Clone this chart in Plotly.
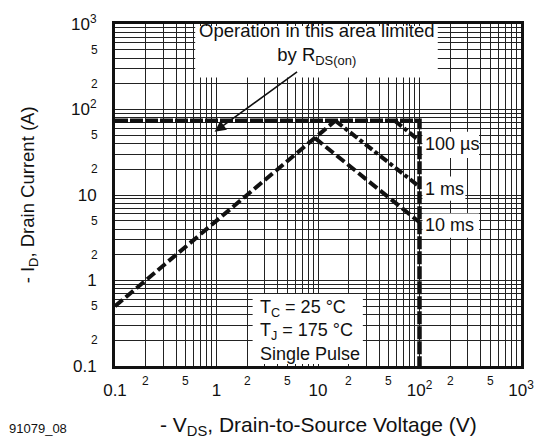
import numpy as np
import plotly.graph_objects as go

# Safe operating area, single pulse (log-log)
v_rds = [0.1, 14.8]            # R_DS(on) limit line
i_rds = [0.5, 74]
v_10ms = [9.3, 100]
i_10ms = [46.5, 4.8]
v_1ms = [14.8, 100]
i_1ms = [74, 12.5]
v_100us = [57, 100]
i_100us = [74, 43]
v_limit = [0.1, 100, 100]      # package current / breakdown limit
i_limit = [74, 74, 0.1]

decades = [0.1, 1, 10, 100]
grid_vals = [d * k for d in decades for k in range(1, 10)] + [1000]
major_vals = [0.1, 1, 10, 100, 1000]
major_text = ["0.1", "1", "10", "10<sup>2</sup>", "10<sup>3</sup>"]
minor_vals = [d * k for d in decades for k in (2, 5)]
minor_text = [str(k) for d in decades for k in (2, 5)]

FONT = "Liberation Sans, Arial, Helvetica, sans-serif"
INK = "#111111"

fig = go.Figure()

def seg(x, y, dash, width):
    fig.add_trace(go.Scatter(x=x, y=y, mode="lines", showlegend=False, hoverinfo="skip",
                             line=dict(color=INK, width=width, dash=dash)))

seg(v_rds, i_rds, "10px,4px", 4)
seg(v_10ms, i_10ms, "10px,4px", 4)
seg(v_1ms, i_1ms, "9px,3px,4px,3px", 4)
seg(v_100us, i_100us, "9px,3px,4px,3px", 4)
seg(v_limit, i_limit, "13px,2px", 4.5)

# white panels behind the text blocks, given in log10 units and mapped to paper space
def to_paper(lg):
    return (lg + 1) / 4

inset = 2.0 / 353
panels = [
    (-0.21, 2.18, 2.375, 3.0),
    (0.356, 1.442, -1.0, -0.159),
    (2.029, 2.587, 1.432, 1.739),
    (2.029, 2.452, 0.932, 1.216),
    (2.029, 2.587, 0.50, 0.784),
]
for x0, x1, y0, y1 in panels:
    fig.add_shape(type="rect", xref="paper", yref="paper",
                  x0=to_paper(x0), x1=to_paper(x1),
                  y0=max(to_paper(y0), inset), y1=min(to_paper(y1), 1 - inset),
                  fillcolor="white", line=dict(width=0), layer="above")

ann = []
ann.append(dict(x=0.981, y=2.762, xref="x", yref="y", showarrow=False, yanchor="middle",
                text="Operation in this area limited<br>by R<sub>DS(on)</sub>",
                font=dict(size=18.5, color=INK), align="center"))
ann.append(dict(x=-0.019, y=1.739, xref="x", yref="y", showarrow=True,
                ax=84, ay=-61, arrowhead=2, arrowsize=1.4, arrowwidth=1.6,
                arrowcolor=INK, text=""))
ann.append(dict(x=0.413, y=-0.58, xref="x", yref="y", showarrow=False, xanchor="left",
                yanchor="middle",
                text="T<sub>C</sub> = 25 °C<br>T<sub>J</sub> = 175 °C<br>Single Pulse",
                font=dict(size=18, color=INK), align="left"))
for lbl, yy in [("100 µs", 1.591), ("1 ms", 1.068), ("10 ms", 0.648)]:
    ann.append(dict(x=2.038, y=yy, xref="x", yref="y", showarrow=False, xanchor="left",
                    yanchor="middle", text=lbl, font=dict(size=18, color=INK)))

for v, t in zip(minor_vals, minor_text):
    ann.append(dict(x=np.log10(v), y=0, xref="x", yref="paper", showarrow=False,
                    yanchor="middle", yshift=-15, text=t, font=dict(size=12, color=INK)))
    ann.append(dict(x=0, y=np.log10(v), xref="paper", yref="y", showarrow=False,
                    xanchor="right", yanchor="middle", xshift=-15, text=t,
                    font=dict(size=12, color=INK)))

ann.append(dict(x=0.5, y=-0.1756, xref="paper", yref="paper", showarrow=False,
                xanchor="center", yanchor="middle",
                text="- V<sub>DS</sub>, Drain-to-Source Voltage (V)", font=dict(size=21, color=INK)))
ann.append(dict(x=-0.211, y=0.5, xref="paper", yref="paper", showarrow=False, textangle=-90,
                xanchor="center", yanchor="middle",
                text="- I<sub>D</sub>, Drain Current (A)", font=dict(size=18.5, color=INK)))
ann.append(dict(x=-0.266, y=-0.184, xref="paper", yref="paper", showarrow=False,
                xanchor="left", yanchor="middle",
                text="91079_08", font=dict(size=13, color=INK)))

axis_common = dict(type="log", range=[-1, 3], tickvals=grid_vals,
                   ticktext=[major_text[major_vals.index(v)] if v in major_vals else ""
                             for v in grid_vals],
                   showgrid=True, gridcolor="#222222", gridwidth=1,
                   showline=True, linecolor=INK, linewidth=3, mirror=True,
                   ticks="", zeroline=False, tickfont=dict(size=17, color=INK))

fig.update_layout(
    width=546, height=443,
    margin=dict(l=115, r=14, t=13, b=77),
    paper_bgcolor="white", plot_bgcolor="white",
    font=dict(family=FONT, color=INK),
    xaxis=dict(**axis_common, ticklabelstandoff=7),
    yaxis=dict(**axis_common, ticklabelstandoff=12),
    annotations=ann,
)

fig.write_html("out.html")
